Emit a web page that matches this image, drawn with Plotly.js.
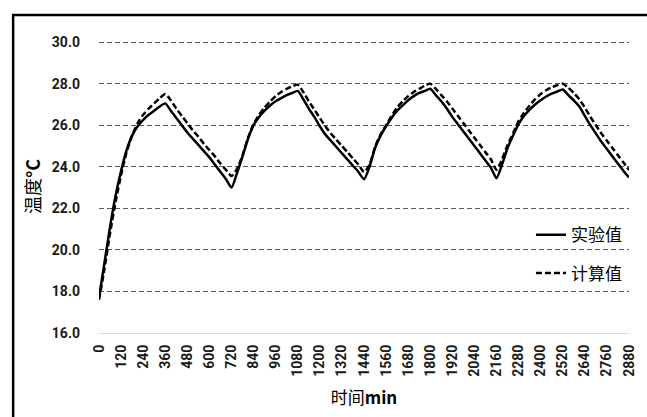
<!DOCTYPE html>
<html><head><meta charset="utf-8">
<script src="https://cdn.plot.ly/plotly-3.0.1.min.js"></script>
<style>html,body{margin:0;padding:0;background:#fff;}#chart{width:647px;height:417px;}</style>
</head><body><div id="chart"></div>
<script>
const timeMin = [0,30,60,90,120,150,180,210,240,270,300,330,360,390,420,450,480,510,540,570,600,630,660,690,720,
750,780,810,840,870,900,930,960,990,1020,1050,1080,1110,1140,1170,1200,1230,1260,1290,1320,1350,1380,1410,1440,
1470,1500,1530,1560,1590,1620,1650,1680,1710,1740,1770,1800,1830,1860,1890,1920,1950,1980,2010,2040,2070,2100,2130,2160,
2190,2220,2250,2280,2310,2340,2370,2400,2430,2460,2490,2520,2550,2580,2610,2640,2670,2700,2730,2760,2790,2820,2850,2880];

const experimental = [17.7,19.4,21.1,22.6,23.8,24.8,25.5,25.95,26.25,26.5,26.7,26.9,27.05,26.7,26.35,26.0,25.65,25.35,25.05,24.75,24.45,24.1,23.75,23.4,23.0,
23.7,24.5,25.35,26.0,26.4,26.7,26.95,27.15,27.3,27.45,27.55,27.65,27.25,26.8,26.4,25.95,25.55,25.25,24.95,24.65,24.35,24.05,23.75,23.4,
24.0,24.9,25.5,25.95,26.35,26.7,26.95,27.2,27.4,27.55,27.65,27.75,27.45,27.15,26.8,26.4,26.05,25.7,25.35,25.0,24.65,24.3,23.95,23.45,
24.1,24.9,25.5,26.05,26.45,26.75,27.0,27.2,27.38,27.52,27.62,27.72,27.45,27.2,26.9,26.45,26.0,25.6,25.2,24.85,24.5,24.15,23.8,23.48];

const calculated = [17.6,19.1,20.8,22.3,23.6,24.7,25.5,26.1,26.5,26.8,27.05,27.3,27.5,27.2,26.8,26.45,26.1,25.75,25.45,25.1,24.8,24.5,24.15,23.85,23.55,
23.9,24.55,25.4,26.05,26.5,26.85,27.15,27.4,27.6,27.75,27.87,27.95,27.6,27.15,26.75,26.35,25.95,25.6,25.3,25.0,24.7,24.4,24.1,23.75,
24.1,24.95,25.55,26.0,26.45,26.85,27.15,27.4,27.6,27.75,27.9,28.0,27.75,27.45,27.15,26.8,26.45,26.1,25.75,25.4,25.05,24.7,24.35,23.85,
24.35,25.05,25.6,26.2,26.6,26.95,27.25,27.5,27.68,27.82,27.92,28.0,27.8,27.55,27.25,26.85,26.4,26.0,25.6,25.25,24.9,24.55,24.2,23.85];

const xTicks = [0,120,240,360,480,600,720,840,960,1080,1200,1320,1440,1560,1680,1800,1920,2040,2160,2280,2400,2520,2640,2760,2880];
const yTicks = [16,18,20,22,24,26,28,30];
const seriesNames = ['实验值','计算值'];

const tickFont = {family:'Roboto, "Noto Sans", sans-serif', size:14, color:'#1a1a1a', weight:'bold'};
const cjkFont = '"Noto Sans CJK SC", sans-serif';

const traces = [
  {x: timeMin, y: experimental, name: seriesNames[0], type:'scatter', mode:'lines',
   legendgroup:'a', line:{color:'#000', width:2.5, shape:'spline', smoothing:0.6}},
  {x: timeMin, y: calculated, name: seriesNames[1], type:'scatter', mode:'lines',
   legendgroup:'b', line:{color:'#000', width:2.5, dash:'6px,3px', shape:'spline', smoothing:0.6}}
];

const layout = {
  width:647, height:417,
  margin:{l:99, r:18, t:40, b:84},
  paper_bgcolor:'#fff', plot_bgcolor:'#fff',
  showlegend:true,
  legend:{x:0.815, y:0.395, xanchor:'left', yanchor:'top', bgcolor:'rgba(0,0,0,0)',
    font:{family:cjkFont, size:17, color:'#000'},
    traceorder:'grouped', tracegroupgap:13},
  xaxis:{range:[0,2880], tickmode:'array', tickvals:xTicks, ticktext:xTicks.map(String),
    tickangle:-90, tickfont:tickFont, showgrid:false, zeroline:false,
    showline:true, linecolor:'#d9d9d9', linewidth:1, ticks:'', ticklabelstandoff:5, fixedrange:true,
    title:{text:'时间<b>min</b>', standoff:16, font:{family:cjkFont, size:17, color:'#000'}}},
  yaxis:{range:[16,30.1], tickmode:'array', tickvals:yTicks, ticktext:yTicks.map(v=>v.toFixed(1)),
    tickfont:tickFont, showgrid:true, gridcolor:'#595959', griddash:'5px,3px', gridwidth:1,
    zeroline:false, showline:false, ticks:'', ticklabelstandoff:18,
    title:{text:'温度<b>°C</b>', standoff:6, font:{family:cjkFont, size:18, color:'#000'}}},
  shapes:[{type:'rect', xref:'paper', yref:'paper', x0:-0.162, x1:1.1, y0:-0.4, y1:1.085,
    line:{color:'#000', width:2.5}, fillcolor:'rgba(0,0,0,0)', layer:'above'}]
};

Plotly.newPlot('chart', traces, layout, {staticPlot:true, displayModeBar:false});
</script></body></html>
